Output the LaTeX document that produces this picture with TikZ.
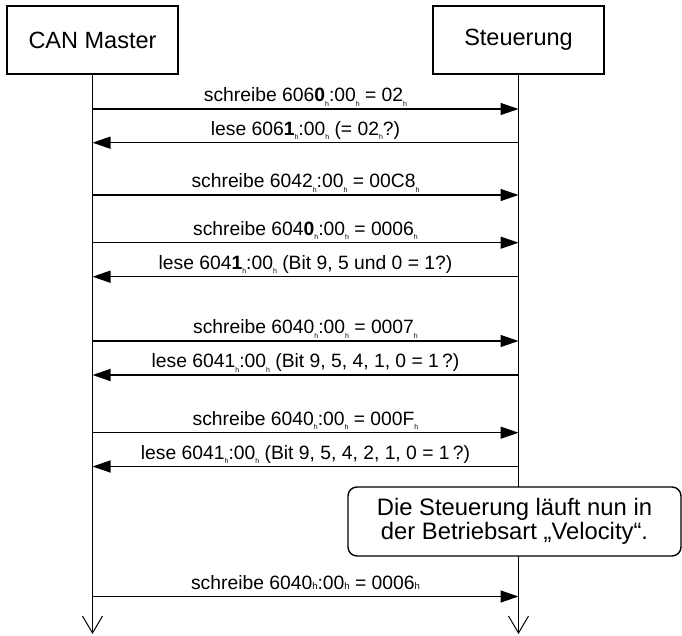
\documentclass[tikz,border=0pt]{standalone}
\usepackage{fontspec}
\setmainfont{Liberation Sans}
\usetikzlibrary{arrows.meta}
\newcommand{\hsub}{\raisebox{-4.5pt}{\fontsize{7}{7}\selectfont h}}
\newcommand{\hsm}{{\fontsize{9.5}{9.5}\selectfont h}}
\begin{document}
\begin{tikzpicture}[x=1pt,y=-1pt,
  actor/.style={draw, line width=1.4pt, minimum width=171pt, minimum height=68pt, inner sep=0pt, font=\fontsize{23.5}{26}\selectfont},
  life/.style={line width=1.3pt, -{Straight Barb[length=17pt,width=20pt,line width=1pt]}},
  msg/.style={line width=1.4pt, -{Triangle[length=18pt,width=12pt]}},
  lbl/.style={anchor=base, yshift=7.5pt, inner sep=0pt, font=\fontsize{19.3}{21}\selectfont},
  notebox/.style={draw, fill=white, line width=1.4pt, rounded corners=9pt, minimum width=333pt, minimum height=69pt, inner sep=0pt, align=center, font=\fontsize{23.8}{24.5}\selectfont}]
\useasboundingbox (0,0) rectangle (682,635);
\node[actor] (can) at (92.5,40) {CAN Master};
\node[actor] (st) at (518.5,40) {Steuerung};
\coordinate (canEnd) at (92.5,634);
\coordinate (stEnd) at (518.5,634);
\draw[life] (can.south) -- (canEnd);
\draw[life] (st.south) -- (stEnd);
% message anchors
\foreach \i/\y in {1/109,2/142.7,3/195,4/242.7,5/276.7,6/341,7/375,8/432.7,9/466.5,10/596.5}{
  \coordinate (a\i) at (92.5,\y);
  \coordinate (b\i) at (518.5,\y);
}
\draw[msg] (a1) -- (b1) node[lbl, midway] {schreibe 606\textbf{0}\hsub:00\hsub{} = 02\hsub};
\draw[msg] (b2) -- (a2) node[lbl, midway] {lese 606\textbf{1}\hsub:00\hsub{} (= 02\hsub?)};
\draw[msg] (a3) -- (b3) node[lbl, midway] {schreibe 6042\hsub:00\hsub{} = 00C8\hsub};
\draw[msg] (a4) -- (b4) node[lbl, midway] {schreibe 604\textbf{0}\hsub:00\hsub{} = 0006\hsub};
\draw[msg] (b5) -- (a5) node[lbl, midway] {lese 604\textbf{1}\hsub:00\hsub{} (Bit 9, 5 und 0 = 1?)};
\draw[msg] (a6) -- (b6) node[lbl, midway] {schreibe 6040\hsub:00\hsub{} = 0007\hsub};
\draw[msg] (b7) -- (a7) node[lbl, midway] {lese 6041\hsub:00\hsub{} (Bit 9, 5, 4, 1, 0 = 1\,?)};
\draw[msg] (a8) -- (b8) node[lbl, midway] {schreibe 6040\hsub:00\hsub{} = 000F\hsub};
\draw[msg] (b9) -- (a9) node[lbl, midway] {lese 6041\hsub:00\hsub{} (Bit 9, 5, 4, 2, 1, 0 = 1\,?)};
\node[notebox] (note) at (514.5,521.5) {Die Steuerung läuft nun in\\der Betriebsart „Velocity“.};
\draw[msg] (a10) -- (b10) node[lbl, midway] {schreibe 6040\hsm:00\hsm{} = 0006\hsm};
\end{tikzpicture}
\end{document}
